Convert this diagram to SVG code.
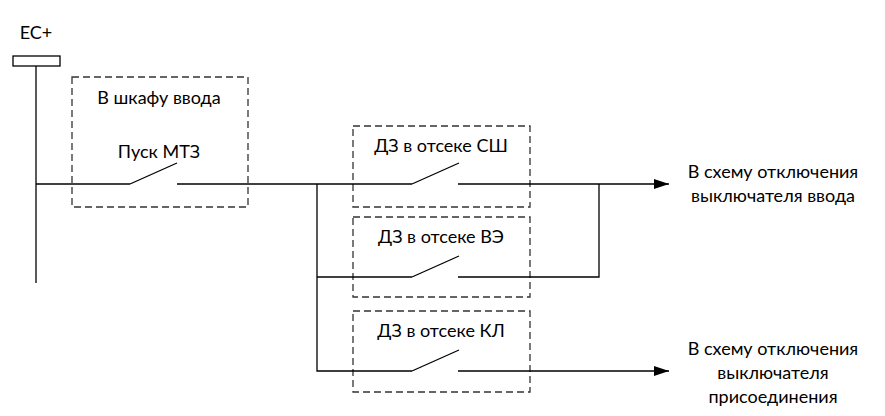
<svg xmlns="http://www.w3.org/2000/svg" width="885" height="416" viewBox="0 0 885 416">
<defs>
<style>
.t{font-family:"Lato","Open Sans","Liberation Sans",sans-serif;font-size:18px;fill:#000;text-anchor:middle}
.box{fill:none;stroke:#333;stroke-width:1.3;stroke-dasharray:7,4}
.w{fill:none;stroke:#000;stroke-width:1.3}
</style>
<marker id="arr" markerWidth="16" markerHeight="12" refX="15" refY="5" orient="auto" markerUnits="userSpaceOnUse">
<path d="M0,0 L15,5 L0,10 Z" fill="#000"/>
</marker>
</defs>
<rect width="885" height="416" fill="#fff"/>
<g id="bus">
<text class="t" x="36" y="39">ЕС+</text>
<rect x="13" y="56" width="47" height="10" fill="#fff" stroke="#000" stroke-width="1.3"/>
</g>
<g id="box-vvod">
<rect class="box" x="72" y="77" width="176" height="130"/>
<text class="t" x="159" y="104">В шкафу ввода</text>
<text class="t" x="159" y="158">Пуск МТЗ</text>
<path class="w" d="M130,184 L177,163"/>
</g>
<g id="box-sh">
<rect class="box" x="353" y="126" width="177" height="81"/>
<text class="t" x="441" y="152">ДЗ в отсеке СШ</text>
<path class="w" d="M412,184 L459,163"/>
</g>
<g id="box-ve">
<rect class="box" x="353" y="217" width="177" height="80"/>
<text class="t" x="441" y="243">ДЗ в отсеке ВЭ</text>
<path class="w" d="M412,277 L459,256"/>
</g>
<g id="box-kl">
<rect class="box" x="353" y="311" width="177" height="81"/>
<text class="t" x="441" y="337">ДЗ в отсеке КЛ</text>
<path class="w" d="M412,371 L459,350"/>
</g>
<g id="out-vvod">
<text class="t" x="773" y="178">В схему отключения</text>
<text class="t" x="773" y="202">выключателя ввода</text>
</g>
<g id="out-pris">
<text class="t" x="773" y="355">В схему отключения</text>
<text class="t" x="773" y="379">выключателя</text>
<text class="t" x="773" y="403">присоединения</text>
</g>
<g id="connectors">
<path class="w" d="M36,66 L36,283"/>
<path class="w" d="M36,184 L130,184"/>
<path class="w" d="M177,184 L412,184"/>
<path class="w" d="M317,184 L317,371 L412,371"/>
<path class="w" d="M317,277 L412,277"/>
<path class="w" d="M458,277 L599,277 L599,184"/>
<path class="w" d="M458,184 L669,184" marker-end="url(#arr)"/>
<path class="w" d="M458,371 L669,371" marker-end="url(#arr)"/>
</g>
</svg>
